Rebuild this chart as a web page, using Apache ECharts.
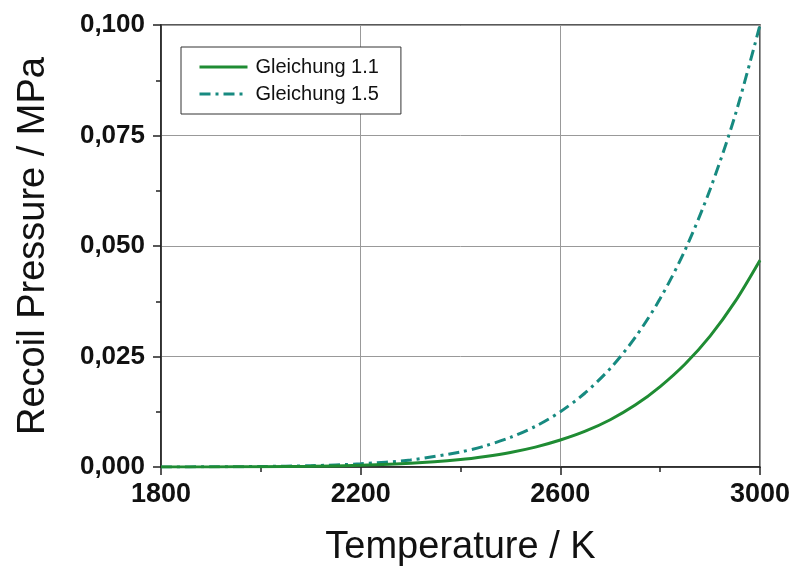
<!DOCTYPE html>
<html>
<head>
<meta charset="utf-8">
<script src="https://cdn.jsdelivr.net/npm/echarts@6/dist/echarts.min.js"></script>
<style>html,body{margin:0;padding:0;background:#fff}#c{width:808px;height:568px}</style>
</head>
<body>
<div id="c"></div>
<script>
const temperatures = [1800, 1900, 2000, 2100, 2200, 2300, 2400, 2450, 2500, 2550, 2600, 2650, 2700, 2750, 2800, 2850, 2900, 2950, 3000];
const gleichung11 = [0.000007, 0.00002, 0.000062, 0.00016, 0.00038, 0.00083, 0.0017, 0.0024, 0.0033, 0.0045, 0.0061, 0.0081, 0.0107, 0.0140, 0.0182, 0.0233, 0.0296, 0.0374, 0.0468];
const gleichung15 = [0.000012, 0.00004, 0.00012, 0.0003, 0.00073, 0.0016, 0.0034, 0.0048, 0.0067, 0.0092, 0.0125, 0.0168, 0.0223, 0.0293, 0.0381, 0.0491, 0.0628, 0.0795, 0.1000];
const seriesNames = ['Gleichung 1.1', 'Gleichung 1.5'];
const xTicks = [1800, 2200, 2600, 3000];
const yTicks = [0, 0.025, 0.05, 0.075, 0.1];

const chart = echarts.init(document.getElementById('c'), null, {renderer: 'canvas'});
const axisColor = '#222';
const font = 'Liberation Sans, Arial, sans-serif';
const toPairs = (xs, ys) => xs.map((x, i) => [x, ys[i]]);

chart.setOption({
  backgroundColor: '#fff',
  animation: false,
  grid: {left: 161, right: 48, top: 25, bottom: 101, show: true, borderColor: axisColor, borderWidth: 1.5,
    backgroundColor: 'transparent', containLabel: false, outerBoundsMode: 'none'},
  legend: {
    data: seriesNames,
    orient: 'vertical',
    left: 181, top: 47,
    padding: [10, 22, 10, 17],
    itemGap: 7,
    itemWidth: 48,
    itemHeight: 18,
    borderColor: '#333',
    borderWidth: 1,
    backgroundColor: '#fff',
    itemStyle: {opacity: 0},
    lineStyle: {width: 3},
    textStyle: {fontFamily: font, fontSize: 20, color: '#111', padding: [0, 0, 0, 3]}
  },
  xAxis: {
    type: 'value', min: xTicks[0], max: xTicks[xTicks.length - 1], interval: 400,
    name: 'Temperature / K', nameLocation: 'middle', nameGap: 62,
    nameTextStyle: {fontFamily: font, fontSize: 38, color: '#111'},
    axisLine: {show: true, lineStyle: {color: axisColor, width: 1.5}},
    axisTick: {show: true, inside: false, length: 8, lineStyle: {color: axisColor, width: 1.5}},
    minorTick: {show: true, splitNumber: 2, length: 5, lineStyle: {color: axisColor, width: 1.5}},
    axisLabel: {fontFamily: font, fontWeight: 'bold', fontSize: 27, color: '#111', margin: 14,
      formatter: v => String(v)},
    splitLine: {show: true, lineStyle: {color: '#999', width: 1}}
  },
  yAxis: {
    type: 'value', min: yTicks[0], max: yTicks[yTicks.length - 1], interval: 0.025,
    name: 'Recoil Pressure / MPa', nameLocation: 'middle', nameGap: 108, nameRotate: 90,
    nameTextStyle: {fontFamily: font, fontSize: 38, color: '#111'},
    axisLine: {show: true, lineStyle: {color: axisColor, width: 1.5}},
    axisTick: {show: true, inside: false, length: 8, lineStyle: {color: axisColor, width: 1.5}},
    minorTick: {show: true, splitNumber: 2, length: 5, lineStyle: {color: axisColor, width: 1.5}},
    axisLabel: {fontFamily: font, fontWeight: 'bold', fontSize: 26, color: '#111', margin: 16,
      formatter: v => v.toFixed(3).replace('.', ',')},
    splitLine: {show: true, lineStyle: {color: '#999', width: 1}}
  },
  series: [
    {name: seriesNames[0], type: 'line', data: toPairs(temperatures, gleichung11), smooth: 0.3, symbol: 'none', showSymbol: false,
      color: '#1f8c33', lineStyle: {color: '#1f8c33', width: 3, type: 'solid'}, z: 3},
    {name: seriesNames[1], type: 'line', data: toPairs(temperatures, gleichung15), smooth: 0.3, symbol: 'none', showSymbol: false,
      color: '#178a80', lineStyle: {color: '#178a80', width: 3, type: [11, 5, 3, 5]}, z: 2}
  ]
});
</script>
</body>
</html>
